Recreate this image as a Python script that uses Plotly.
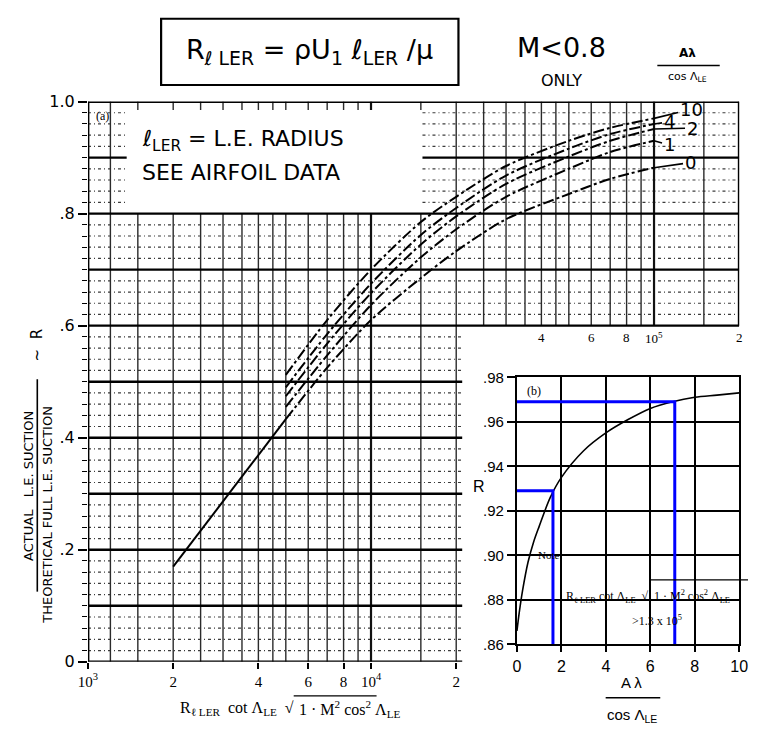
import numpy as np
import plotly.graph_objects as go

W, H = 757, 740

# ---------------- panel (a): R vs Reynolds-number parameter ----------------
re_common = [2.0e3, 3.5e3, 5.0e3]
r_common = [0.170, 0.330, 0.433]

re_branch = [5.0e3, 7.0e3, 1.0e4, 1.5e4, 2.0e4, 3.0e4, 5.0e4, 7.0e4, 1.0e5]
r_ar10 = [0.512, 0.610, 0.700, 0.785, 0.830, 0.885, 0.930, 0.953, 0.970]
r_ar4 = [0.490, 0.585, 0.675, 0.762, 0.810, 0.868, 0.916, 0.942, 0.960]
r_ar2 = [0.474, 0.568, 0.658, 0.745, 0.795, 0.853, 0.902, 0.930, 0.951]
r_ar1 = [0.455, 0.547, 0.637, 0.722, 0.772, 0.830, 0.880, 0.910, 0.930]
r_ar0 = [0.433, 0.525, 0.610, 0.685, 0.733, 0.790, 0.835, 0.862, 0.882]
branch_names = ["10", "4", "2", "1", "0"]

main_y_ticks = [0, 0.2, 0.4, 0.6, 0.8, 1.0]
main_y_text = ["0", ".2", ".4", ".6", ".8", "1.0"]
main_x_ticks_low = [1e3, 2e3, 4e3, 6e3, 8e3, 1e4, 2e4]
main_x_text_low = ["10<sup>3</sup>", "2", "4", "6", "8", "10<sup>4</sup>", "2"]
main_x_ticks_high = [4e4, 6e4, 8e4, 1e5, 2e5]
main_x_text_high = ["4", "6", "8", "10<sup>5</sup>", "2"]

# ---------------- panel (b): high-Reynolds-number limit ----------------
ar_param = [0, 0.1, 0.25, 0.5, 0.75, 1, 1.5, 2, 3, 4, 5, 6, 7, 8, 9, 10]
r_limit = [0.866, 0.874, 0.884, 0.897, 0.906, 0.913, 0.926, 0.935, 0.947,
           0.955, 0.961, 0.966, 0.969, 0.971, 0.972, 0.973]
marked_ar = [1.62, 7.1]
marked_r = [0.929, 0.969]
inset_x_ticks = [0, 2, 4, 6, 8, 10]
inset_y_ticks = [0.86, 0.88, 0.90, 0.92, 0.94, 0.96, 0.98]
inset_y_text = [".86", ".88", ".90", ".92", ".94", ".96", ".98"]

# ---------------- graph-paper layout of panel (a) ----------------
X_MIN, X_MAX = 1e3, 2e5
CUT_X, CUT_R = 2.1e4, 0.6            # lower-right corner is left free for panel (b)
BOX_X0, BOX_X1, BOX_R0, BOX_R1 = 1.37e3, 1.52e4, 0.8, 0.985   # note area

first_mults = [1.2, 1.5, 2, 2.5, 3, 3.5, 4, 4.5, 5, 6, 7, 8, 9]
mults = [1.5, 2, 2.5, 3, 3.5, 4, 4.5, 5, 6, 7, 8, 9]
v_minor = [m * 1e3 for m in first_mults] + [m * 1e4 for m in mults] + [1.5e5]
v_decade = [1e4, 1e5]


def h_pieces(r):
    if r < CUT_R - 1e-9:
        return [(X_MIN, CUT_X)]
    if BOX_R0 + 1e-9 < r < BOX_R1:
        return [(X_MIN, BOX_X0), (BOX_X1, X_MAX)]
    return [(X_MIN, X_MAX)]


def v_pieces(x):
    if x > CUT_X:
        return [(CUT_R, 1.0)]
    if BOX_X0 < x < BOX_X1:
        return [(0.0, BOX_R0), (BOX_R1, 1.0)]
    return [(0.0, 1.0)]


def collect(segments):
    xs, ys = [], []
    for x0, y0, x1, y1 in segments:
        xs += [x0, x1, None]
        ys += [y0, y1, None]
    return xs, ys


minor_h, major_h = [], []
for k in range(1, 50):
    r = round(k * 0.02, 4)
    target = major_h if k % 5 == 0 else minor_h
    for a, b in h_pieces(r):
        target.append((a, r, b, r))

vert_minor, vert_major = [], []
for x in v_minor:
    for a, b in v_pieces(x):
        vert_minor.append((x, a, x, b))
for x in v_decade:
    for a, b in v_pieces(x):
        vert_major.append((x, a, x, b))

border = [(X_MIN, 0, X_MIN, 1), (X_MIN, 1, X_MAX, 1), (X_MAX, CUT_R, X_MAX, 1),
          (X_MIN, 0, CUT_X, 0)]

fig = go.Figure()


def add_lines(segments, color, width, dash="solid"):
    xs, ys = collect(segments)
    fig.add_trace(go.Scatter(x=xs, y=ys, mode="lines", xaxis="x", yaxis="y",
                             line=dict(color=color, width=width, dash=dash),
                             hoverinfo="skip", showlegend=False))


add_lines(minor_h, "#3c3c3c", 1.2, "3px,3px,1px,3px")
add_lines(vert_minor, "#2b2b2b", 1.4)
add_lines(vert_major, "#111111", 2.2)
add_lines(major_h, "#000000", 2.4)
add_lines(border, "#000000", 2.8)

# shared stem and the five branches
fig.add_trace(go.Scatter(x=re_common, y=r_common, mode="lines", xaxis="x", yaxis="y",
                         line=dict(color="black", width=2), hoverinfo="skip",
                         showlegend=False))
for name, vals in zip(branch_names, [r_ar10, r_ar4, r_ar2, r_ar1, r_ar0]):
    fig.add_trace(go.Scatter(x=re_branch, y=vals, mode="lines", xaxis="x", yaxis="y",
                             line=dict(color="black", width=2, dash="11px,3px,3px,3px",
                                       shape="spline", smoothing=0.8),
                             hoverinfo="skip", showlegend=False, name=name))

# panel (b)
fig.add_trace(go.Scatter(x=ar_param, y=r_limit, mode="lines", xaxis="x2", yaxis="y2",
                         line=dict(color="black", width=1.6, shape="spline", smoothing=0.9),
                         hoverinfo="skip", showlegend=False))
for a, r in zip(marked_ar, marked_r):
    fig.add_trace(go.Scatter(x=[0, a, a], y=[r, r, inset_y_ticks[0]], mode="lines",
                             xaxis="x2", yaxis="y2",
                             line=dict(color="#0000ff", width=3),
                             hoverinfo="skip", showlegend=False))


def px(x, y):
    return x / W, 1 - y / H


annotations = []
shapes = []


def note(text, x, y, size=14, family="DejaVu Sans", xanchor="center",
         yanchor="middle", angle=0, color="black"):
    xp, yp = px(x, y)
    annotations.append(dict(text=text, x=xp, y=yp, xref="paper", yref="paper",
                            showarrow=False, xanchor=xanchor, yanchor=yanchor,
                            textangle=angle,
                            font=dict(size=size, family=family, color=color)))


def rule(x0, y0, x1, y1, width=1.5):
    a, b = px(x0, y0)
    c, d = px(x1, y1)
    shapes.append(dict(type="line", xref="paper", yref="paper", x0=a, y0=b, x1=c, y1=d,
                       line=dict(color="black", width=width)))


# header
shapes.append(dict(type="rect", xref="paper", yref="paper",
                   x0=155 / W, x1=460 / W, y0=1 - 78 / H, y1=1 - 10 / H,
                   line=dict(color="black", width=2.2)))
note("R<sub>ℓ LER</sub> = ρU<sub>1</sub> ℓ<sub>LER</sub> /μ", 307, 44, size=27)
note("M&lt;0.8", 566, 40, size=27)
note("ONLY", 566, 73, size=16)
note("<b>Aλ</b>", 695, 45, size=12)
rule(664, 58, 728, 58, 1.6)
note("cos Λ<sub>LE</sub>", 695, 70, size=11)

# panel (a) notes
note("ℓ<sub>LER</sub> = L.E. RADIUS", 133, 135, size=22, xanchor="left")
note("SEE AIRFOIL DATA", 133, 168, size=22, xanchor="left")
note("(a)", 95, 110, size=12, family="Liberation Serif")

# upper row of x tick labels, just under the R = 0.6 line
for v, t in zip(main_x_ticks_high, main_x_text_high):
    annotations.append(dict(text=t, x=np.log10(v), y=CUT_R, xref="x", yref="y",
                            showarrow=False, yanchor="top", yshift=-2,
                            font=dict(size=13, family="Liberation Serif", color="black")))

# branch labels with leaders
label_off = {"10": (37, -9), "4": (15, -2), "2": (38, -1), "1": (15, 4), "0": (36, -5)}
for name, vals in zip(branch_names, [r_ar10, r_ar4, r_ar2, r_ar1, r_ar0]):
    ax_, ay_ = label_off[name]
    annotations.append(dict(text=name, x=np.log10(re_branch[-1]), y=vals[-1],
                            xref="x", yref="y", ax=ax_, ay=ay_, showarrow=True,
                            arrowhead=0, arrowwidth=1.6, arrowcolor="black",
                            font=dict(size=18, family="DejaVu Sans", color="black")))

# y-axis title (fraction, rotated)
note("ACTUAL   L.E. SUCTION", 19, 490, size=13, angle=-90)
rule(28, 380, 28, 598, 1.6)
note("THEORETICAL FULL L.E. SUCTION", 39, 519, size=13, angle=-90)
note("~  R", 28, 345, size=15, angle=-90)

# x-axis title
note("R<sub>ℓ LER</sub>  cot Λ<sub>LE</sub>  √", 293, 718, size=16,
     family="Liberation Serif", xanchor="right")
note("1 · M<sup>2</sup> cos<sup>2</sup> Λ<sub>LE</sub>", 294, 718, size=16,
     family="Liberation Serif", xanchor="left")
rule(291, 705, 376, 705, 1.4)

# panel (b) texts
note("(b)", 538, 392, size=12, family="Liberation Serif")
note("R", 481, 490, size=16, family="Liberation Sans")
note("Note:", 540, 560, size=11, family="Liberation Serif", xanchor="left")
note("R<sub>ℓ LER</sub> cot Λ<sub>LE</sub>  √", 658, 603, size=12,
     family="Liberation Serif", xanchor="right")
note("1 · M<sup>2</sup> cos<sup>2</sup> Λ<sub>LE</sub>", 659, 603, size=12,
     family="Liberation Serif", xanchor="left")
rule(656, 586, 757, 586, 1.2)
note("&gt;1.3 x 10<sup>5</sup>", 664, 628, size=12, family="Liberation Serif")
note("A λ", 638, 691, size=15, family="Liberation Sans")
rule(611, 707, 667, 707, 1.5)
note("cos Λ<sub>LE</sub>", 638, 725, size=15, family="Liberation Sans")

fig.update_layout(
    width=W, height=H, margin=dict(l=0, r=0, t=0, b=0),
    paper_bgcolor="white", plot_bgcolor="rgba(0,0,0,0)",
    showlegend=False, annotations=annotations, shapes=shapes,
    xaxis=dict(type="log", range=[3, np.log10(X_MAX)], domain=[80 / W, 748 / W],
               anchor="y", showgrid=False, zeroline=False, showline=False,
               tickmode="array", tickvals=main_x_ticks_low, ticktext=main_x_text_low,
               ticks="outside", ticklen=6, tickwidth=1.5, tickcolor="black",
               tickfont=dict(size=15, family="Liberation Serif", color="black")),
    yaxis=dict(range=[0, 1], domain=[70 / H, 645 / H], anchor="x",
               showgrid=False, zeroline=False, showline=False,
               tickmode="array", tickvals=main_y_ticks, ticktext=main_y_text,
               ticks="outside", ticklen=9, tickwidth=2, tickcolor="black",
               minor=dict(dtick=0.02, ticks="outside", ticklen=5, tickwidth=1.2,
                          tickcolor="black", showgrid=False),
               tickfont=dict(size=16, family="DejaVu Sans", color="black")),
    xaxis2=dict(range=[0, 10], domain=[520 / W, 748 / W], anchor="y2",
                showgrid=True, gridcolor="black", gridwidth=1.5, zeroline=False,
                showline=True, linecolor="black", linewidth=2.2, mirror=True,
                tickmode="array", tickvals=inset_x_ticks, ticklabeloverflow="allow",
                ticks="outside", ticklen=6, tickwidth=1.5, tickcolor="black",
                tickfont=dict(size=16, family="Liberation Sans", color="black")),
    yaxis2=dict(range=[0.86, 0.98], domain=[(H - 652) / H, (H - 378) / H], anchor="x2",
                showgrid=True, gridcolor="black", gridwidth=1.5, zeroline=False,
                showline=True, linecolor="black", linewidth=2.2, mirror=True,
                tickmode="array", tickvals=inset_y_ticks, ticktext=inset_y_text,
                ticks="outside", ticklen=8, tickwidth=1.5, tickcolor="black",
                tickfont=dict(size=15, family="Liberation Sans", color="black")),
)

fig.write_html("out.html")
